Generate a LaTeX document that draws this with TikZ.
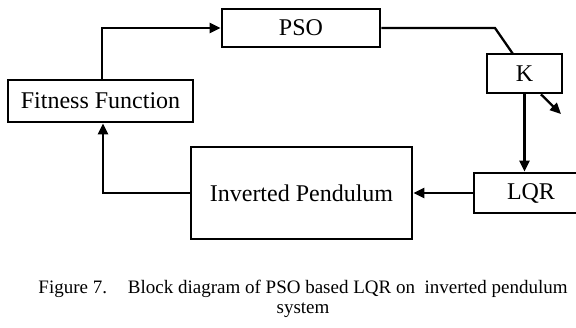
\documentclass[tikz,border=0pt]{standalone}
\usepackage{fontspec}
\setmainfont{Liberation Serif}
\usetikzlibrary{arrows.meta}
\begin{document}
\begin{tikzpicture}[x=1pt,y=-1pt,
  blk/.style={draw=black, line width=2.8pt, inner sep=0pt, font=\fontsize{24}{28}\selectfont},
  conn/.style={line width=2.3pt, line join=miter},
  arr/.style={conn, -{Triangle[length=11pt,width=10pt]}}]
\useasboundingbox (0,0) rectangle (576,327);
\fill[white] (0,0) rectangle (576,327);
\node[blk, minimum width=158pt, minimum height=38pt] (pso) at (301,28) {PSO};
\node[blk, minimum width=75pt, minimum height=39pt] (k) at (524.5,73.5) {K};
\node[blk, minimum width=116pt, minimum height=40pt, text width=116pt, align=left] (lqr) at (532,193) {\hspace{33pt}LQR};
\node[blk, minimum width=221pt, minimum height=92pt] (ip) at (301.5,193) {Inverted Pendulum};
\node[blk, minimum width=185pt, minimum height=42pt] (fit) at (100.5,101) {Fitness Function};
\coordinate (kout) at (561,114);
\coordinate (kin) at (513,54);
\draw[arr] (fit.north -| 102,0) -- (102,28) -- (pso.west);
\draw[conn] (pso.east) -- (495,28) -- (kin);
\draw[arr] (k.south) -- (lqr.north -| k.south);
\draw[arr] (k.south -| 541,0) -- (kout);
\draw[arr] (lqr.west) -- (ip.east);
\draw[arr] (ip.west) -- (103,193) -- (fit.south -| 103,0);
\node[inner sep=0pt, font=\fontsize{19}{19.5}\selectfont, align=center] (cap) at (303,299)
  {Figure 7.\hspace{1.1em}Block diagram of PSO based LQR on\ \ inverted pendulum\\system};
\end{tikzpicture}
\end{document}
